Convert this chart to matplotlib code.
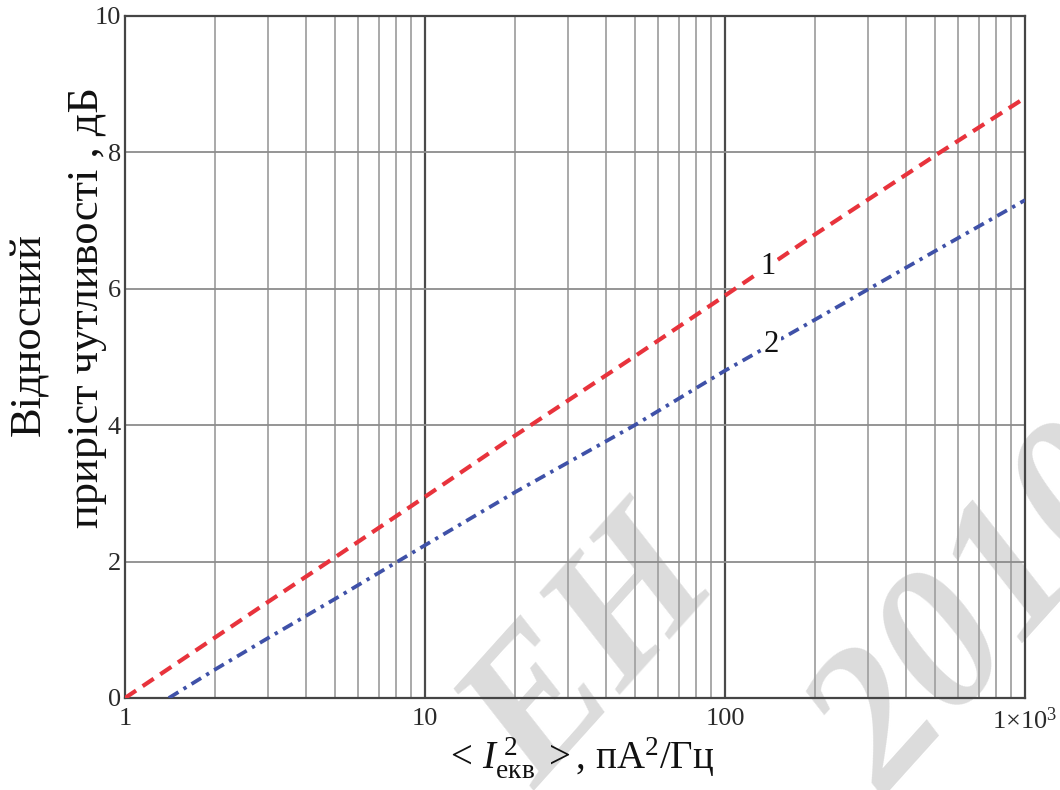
import numpy as np
import matplotlib
matplotlib.use("Agg")
import matplotlib.pyplot as plt
from matplotlib.ticker import FixedLocator, NullFormatter

# Equivalent noise current spectral density, pA^2/Hz
current_1 = [1, 2, 3, 5, 10, 20, 50, 100, 200, 500, 1000]
gain_1 = [0.0, 0.89, 1.41, 2.06, 2.95, 3.85, 5.01, 5.90, 6.80, 7.95, 8.80]

current_2 = [1.4, 2, 3, 5, 10, 20, 50, 100, 200, 500, 1000]
gain_2 = [0.0, 0.42, 0.88, 1.45, 2.24, 3.02, 4.00, 4.80, 5.55, 6.55, 7.30]

x_ticks = [1, 10, 100, 1000]
x_tick_labels = ["1", "10", "100", r"1$\times$10$^3$"]
y_ticks = [0, 2, 4, 6, 8, 10]
y_tick_labels = ["0", "2", "4", "6", "8", "10"]

curve_names = ["1", "2"]
label_pos_x = [139, 143]

plt.rcParams["font.family"] = ["Liberation Serif", "DejaVu Serif"]
plt.rcParams["mathtext.fontset"] = "custom"
plt.rcParams["mathtext.rm"] = "Liberation Serif"
plt.rcParams["mathtext.it"] = "Liberation Serif:italic"

W, H = 1060, 790
fig = plt.figure(figsize=(W / 100, H / 100), dpi=100)
ax = fig.add_axes([125 / W, 1 - 698 / H, 900 / W, 682 / H])
ax.patch.set_alpha(0)

ax.set_xscale("log")
ax.set_xlim(1, 1000)
ax.set_ylim(0, 10)

# grid
minor = [m * 10 ** d for d in range(3) for m in range(2, 10)]
for v in minor:
    ax.axvline(v, color="#a3a3a3", lw=1.3, zorder=1)
for v in [10, 100]:
    ax.axvline(v, color="#4a4a4a", lw=1.6, zorder=1)
for v in [2, 4, 6, 8]:
    ax.axhline(v, color="#8c8c8c", lw=1.3, zorder=1)

ax.plot(current_1, gain_1, color="#e8333c", lw=3.0,
        linestyle=(0, (3.2, 1.9)), zorder=3)
ax.plot(current_2, gain_2, color="#3f51a8", lw=2.7,
        linestyle=(0, (3.0, 1.6, 0.9, 1.6)), zorder=3)

for name, xp, xs, ys in zip(curve_names, label_pos_x,
                            [current_1, current_2], [gain_1, gain_2]):
    yp = np.interp(np.log10(xp), np.log10(xs), ys)
    ax.text(xp, yp, name, fontsize=22, ha="center", va="center",
            color="#111111", zorder=4,
            bbox=dict(facecolor="white", edgecolor="none", pad=1.0))

for s in ax.spines.values():
    s.set_color("#454545")
    s.set_linewidth(1.6)

ax.xaxis.set_major_locator(FixedLocator(x_ticks))
ax.xaxis.set_minor_formatter(NullFormatter())
ax.set_xticklabels(x_tick_labels)
ax.set_yticks(y_ticks)
ax.set_yticklabels(y_tick_labels)
ax.tick_params(axis="both", which="both", length=0, labelsize=19,
               labelcolor="#2a2a2a")
ax.tick_params(axis="x", pad=7)
ax.tick_params(axis="y", pad=3)

# axis titles
fig.text(29 / W, 1 - 335 / H, "Відносний", rotation=90, fontsize=32,
         ha="center", va="center", color="#111111")
fig.text(87 / W, 1 - 307 / H, "приріст чутливості , дБ", rotation=90,
         fontsize=32, ha="center", va="center", color="#111111")
fig.text(580 / W, 1 - 757 / H,
         r"$<\,I_{\mathrm{екв}}^{\;2}\;>$, пА$^2$/Гц",
         fontsize=28, ha="center", va="center", color="#111111")

# watermark
fig.text(595 / W, 1 - 655 / H, "ЕН", rotation=48, fontsize=140,
         fontweight="bold", fontstyle="italic",
         ha="center", va="center", color="#dcdcdc", zorder=-1)
fig.text(985 / W, 1 - 615 / H, "2010", rotation=48, fontsize=145,
         fontweight="bold", fontstyle="italic",
         ha="center", va="center", color="#dcdcdc", zorder=-1)

fig.savefig("out.png", dpi=100, facecolor="white")
